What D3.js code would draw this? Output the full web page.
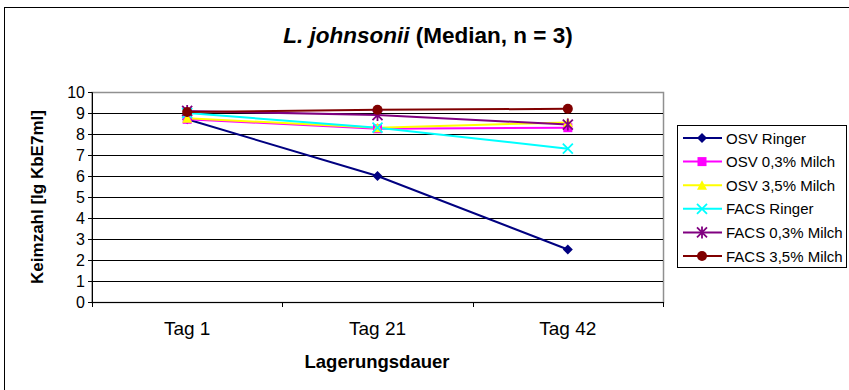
<!DOCTYPE html>
<html>
<head>
<meta charset="utf-8">
<script src="https://cdn.jsdelivr.net/npm/d3@7"></script>
<style>
  body { margin: 0; background: #fff; }
  svg { display: block; font-family: Arial, "Liberation Sans", sans-serif; }
</style>
</head>
<body>
<script>
// categories and series
var categories = ['Tag 1', 'Tag 21', 'Tag 42'];
var seriesNames = ['OSV Ringer', 'OSV 0,3% Milch', 'OSV 3,5% Milch', 'FACS Ringer', 'FACS 0,3% Milch', 'FACS 3,5% Milch'];
var osvRinger = [8.7, 6.0, 2.5];
var osv03 = [8.7, 8.25, 8.3];
var osv35 = [8.75, 8.3, 8.55];
var facsRinger = [9.0, 8.3, 7.3];
var facs03 = [9.1, 8.9, 8.45];
var facs35 = [9.05, 9.15, 9.2];
var yTicks = [0, 1, 2, 3, 4, 5, 6, 7, 8, 9, 10];

var colors = ['#000080', '#ff00ff', '#ffff00', '#00ffff', '#800080', '#800000'];
var symbols = ['diamond', 'square', 'triangle', 'x', 'star', 'circle'];
var values = [osvRinger, osv03, osv35, facsRinger, facs03, facs35];

var W = 849, H = 390;
var margin = { top: 92, left: 92, right: 186, bottom: 88 };
var width = W - margin.left - margin.right;
var height = H - margin.top - margin.bottom;

var root = d3.select('body').append('svg')
    .attr('width', W)
    .attr('height', H);

// outer chart frame
root.append('rect')
    .attr('x', 4.5).attr('y', 7.5)
    .attr('width', W).attr('height', H)
    .attr('fill', '#fff').attr('stroke', '#000').attr('stroke-width', 1);

// title
var title = root.append('text')
    .attr('x', 428).attr('y', 43)
    .attr('text-anchor', 'middle')
    .style('font-size', '22.5px').style('font-weight', 'bold');
title.append('tspan').style('font-style', 'italic').text('L. johnsonii');
title.append('tspan').text('  (Median, n = 3)');

var svg = root.append('g')
    .attr('transform', 'translate(' + margin.left + ',' + margin.top + ')');

var xScale = d3.scaleBand().domain(categories).range([0, width]);
var yScale = d3.scaleLinear().domain([0, 10]).range([height, 0]);

// plot area border (grey top/right)
svg.append('rect')
    .attr('x', 0).attr('y', 0.5)
    .attr('width', width + 0.5).attr('height', height)
    .attr('fill', 'none').attr('stroke', '#909090').attr('stroke-width', 1.5);

// gridlines
svg.selectAll('.grid').data(yTicks.filter(function (d) { return d > 0 && d < 10; }))
    .enter().append('line')
    .attr('x1', 0).attr('x2', width)
    .attr('y1', function (d) { return Math.round(yScale(d)) + 0.5; })
    .attr('y2', function (d) { return Math.round(yScale(d)) + 0.5; })
    .attr('stroke', '#000').attr('stroke-width', 1);

// y axis
var yAxis = d3.axisLeft(yScale).tickValues(yTicks).tickSize(4).tickPadding(3).tickFormat(d3.format('d'));
var gy = svg.append('g').call(yAxis);
gy.select('.domain').attr('stroke', '#000');
gy.selectAll('text').style('font-size', '16px').attr('dy', '0.36em').attr('fill', '#000');

// x axis: ticks at category boundaries
svg.append('line')
    .attr('x1', 0).attr('x2', width)
    .attr('y1', height + 0.5).attr('y2', height + 0.5)
    .attr('stroke', '#000');
var bounds = [0].concat(categories.map(function (c) { return xScale(c) + xScale.bandwidth(); }));
svg.selectAll('.xtick').data(bounds).enter().append('line')
    .attr('x1', function (d) { return Math.round(d) + 0.5; })
    .attr('x2', function (d) { return Math.round(d) + 0.5; })
    .attr('y1', height).attr('y2', height + 5)
    .attr('stroke', '#000');
svg.selectAll('.xlabel').data(categories).enter().append('text')
    .attr('x', function (d) { return xScale(d) + xScale.bandwidth() / 2; })
    .attr('y', 335 - margin.top)
    .attr('text-anchor', 'middle')
    .style('font-size', '19px')
    .text(function (d) { return d; });

// axis titles
root.append('text')
    .attr('x', 377).attr('y', 368)
    .attr('text-anchor', 'middle')
    .style('font-size', '18.5px').style('font-weight', 'bold')
    .text('Lagerungsdauer');
root.append('text')
    .attr('transform', 'translate(43,' + (margin.top + height / 2) + ') rotate(-90)')
    .attr('text-anchor', 'middle')
    .style('font-size', '17px').style('font-weight', 'bold')
    .text('Keimzahl [lg KbE7ml]');

// marker drawing
function drawMarker(g, type, color) {
    if (type === 'diamond') {
        g.append('path').attr('d', 'M0,-5L5,0L0,5L-5,0Z').attr('fill', color);
    } else if (type === 'square') {
        g.append('rect').attr('x', -4.5).attr('y', -4.5).attr('width', 9).attr('height', 9).attr('fill', color);
    } else if (type === 'triangle') {
        g.append('path').attr('d', 'M0,-5L5,4.5L-5,4.5Z').attr('fill', color);
    } else if (type === 'x') {
        g.append('path').attr('d', 'M-5,-5L5,5M-5,5L5,-5').attr('stroke', color).attr('stroke-width', 1.8);
    } else if (type === 'star') {
        g.append('path').attr('d', 'M-5,-5L5,5M-5,5L5,-5M0,-6L0,6').attr('stroke', color).attr('stroke-width', 1.8);
    } else if (type === 'circle') {
        g.append('circle').attr('r', 5).attr('fill', color);
    }
}

var line = d3.line()
    .x(function (d, i) { return xScale(categories[i]) + xScale.bandwidth() / 2; })
    .y(function (d) { return yScale(d); });

values.forEach(function (vals, s) {
    svg.append('path')
        .datum(vals)
        .attr('d', line)
        .attr('fill', 'none')
        .attr('stroke', colors[s])
        .attr('stroke-width', 2);
});
values.forEach(function (vals, s) {
    vals.forEach(function (v, i) {
        var g = svg.append('g')
            .attr('transform', 'translate(' + (xScale(categories[i]) + xScale.bandwidth() / 2) + ',' + yScale(v) + ')');
        drawMarker(g, symbols[s], colors[s]);
    });
});

// legend
var legend = root.append('g').attr('transform', 'translate(677,125)');
legend.append('rect')
    .attr('x', 0.5).attr('y', 0.5).attr('width', 169).attr('height', 142)
    .attr('fill', '#fff').attr('stroke', '#000');
seriesNames.forEach(function (name, s) {
    var ly = 13 + s * 23.6;
    var g = legend.append('g').attr('transform', 'translate(0,' + ly + ')');
    g.append('line').attr('x1', 6).attr('x2', 45).attr('y1', 0).attr('y2', 0)
        .attr('stroke', colors[s]).attr('stroke-width', 2);
    drawMarker(g.append('g').attr('transform', 'translate(25,0)'), symbols[s], colors[s]);
    g.append('text').attr('x', 49).attr('y', 5.5)
        .style('font-size', '15px')
        .text(name);
});
</script>
</body>
</html>
